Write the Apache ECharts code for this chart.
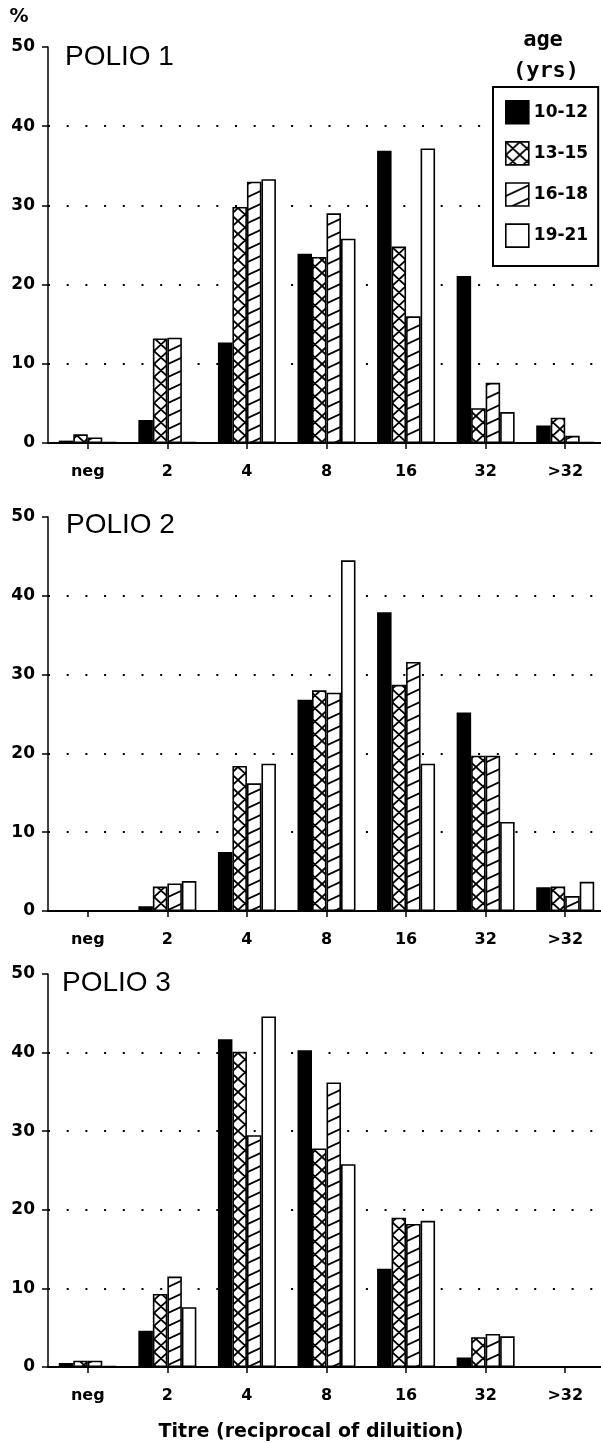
<!DOCTYPE html>
<html>
<head>
<meta charset="utf-8">
<script src="https://cdn.jsdelivr.net/npm/echarts@6/dist/echarts.min.js"></script>
<style>
html,body{margin:0;padding:0;background:#fff;}
#chart{width:601px;height:1443px;}
</style>
</head>
<body>
<div id="chart"></div>
<script>
// ---- data ----
const categories = ['neg', '2', '4', '8', '16', '32', '>32'];
const ageGroups = ['10-12', '13-15', '16-18', '19-21'];
const panelTitles = ['POLIO 1', 'POLIO 2', 'POLIO 3'];
const yTicks = [0, 10, 20, 30, 40, 50];

const polio1_10_12 = [0.3, 2.9, 12.7, 23.9, 36.9, 21.1, 2.2];
const polio1_13_15 = [1.1, 13.2, 29.8, 23.5, 24.8, 4.4, 3.2];
const polio1_16_18 = [0.7, 13.3, 33.0, 29.0, 16.0, 7.6, 0.9];
const polio1_19_21 = [0.1, 0.1, 33.3, 25.8, 37.2, 3.9, 0.1];

const polio2_10_12 = [0, 0.6, 7.5, 26.8, 37.9, 25.2, 3.0];
const polio2_13_15 = [0, 3.1, 18.4, 28.0, 28.7, 19.7, 3.1];
const polio2_16_18 = [0, 3.5, 16.2, 27.7, 31.6, 19.7, 1.9];
const polio2_19_21 = [0, 3.8, 18.7, 44.5, 18.7, 11.3, 3.7];

const polio3_10_12 = [0.5, 4.6, 41.7, 40.3, 12.5, 1.2, 0];
const polio3_13_15 = [0.8, 9.3, 40.1, 27.8, 19.0, 3.8, 0];
const polio3_16_18 = [0.8, 11.5, 29.5, 36.2, 18.2, 4.2, 0];
const polio3_19_21 = [0.1, 7.6, 44.6, 25.8, 18.6, 3.9, 0];

const panels = [
  [polio1_10_12, polio1_13_15, polio1_16_18, polio1_19_21],
  [polio2_10_12, polio2_13_15, polio2_16_18, polio2_19_21],
  [polio3_10_12, polio3_13_15, polio3_16_18, polio3_19_21]
];

// ---- patterns ----
function crossPattern() {
  const c = document.createElement('canvas');
  c.width = 14; c.height = 13;
  const g = c.getContext('2d');
  g.fillStyle = '#fff'; g.fillRect(0, 0, 14, 13);
  g.strokeStyle = '#000'; g.lineWidth = 1.8;
  g.beginPath();
  for (const dy of [-13, 0, 13]) {
    g.moveTo(-14, -13 + dy); g.lineTo(28, 26 + dy);
    g.moveTo(28, -13 + dy); g.lineTo(-14, 26 + dy);
  }
  g.stroke();
  return c;
}
function hatchPattern() {
  const c = document.createElement('canvas');
  c.width = 28; c.height = 13;
  const g = c.getContext('2d');
  g.fillStyle = '#fff'; g.fillRect(0, 0, 28, 13);
  g.strokeStyle = '#000'; g.lineWidth = 1.8;
  g.beginPath();
  for (const dy of [-13, 0, 13]) {
    g.moveTo(-28, 26 + dy); g.lineTo(56, -13 + dy);
  }
  g.stroke();
  return c;
}
const fills = [
  '#000',
  { image: crossPattern(), repeat: 'repeat' },
  { image: hatchPattern(), repeat: 'repeat' },
  '#fff'
];

// ---- layout ----
const gridTops = [47, 517, 974];
const gridHeights = [396, 394, 393];
const FONT = '"Liberation Sans", Arial, sans-serif';
const BFONT = '"DejaVu Sans", sans-serif';

const grids = [], xAxes = [], yAxes = [], series = [];
for (let p = 0; p < 3; p++) {
  grids.push({ left: 48, top: gridTops[p], width: 557, height: gridHeights[p], containLabel: false, outerBoundsMode: 'none' });
  xAxes.push({
    type: 'category', gridIndex: p, data: categories, boundaryGap: true,
    axisLine: { show: true, lineStyle: { color: '#000', width: 2 } },
    axisTick: { show: true, alignWithLabel: true, length: 6, lineStyle: { color: '#000', width: 1.5 } },
    axisLabel: { show: true, color: '#000', fontSize: 16, fontWeight: 'bold', fontFamily: BFONT, margin: 21 },
    splitLine: { show: false }
  });
  yAxes.push({
    type: 'value', gridIndex: p, min: yTicks[0], max: yTicks[yTicks.length - 1], interval: 10,
    axisLine: { show: true, lineStyle: { color: '#000', width: 1.5 } },
    axisTick: { show: true, inside: false, length: 6, lineStyle: { color: '#000', width: 1.5 } },
    axisLabel: { show: true, color: '#000', fontSize: 17, fontWeight: 'bold', fontFamily: BFONT, margin: 13 },
    splitLine: { show: true, showMinLine: false, showMaxLine: false,
      lineStyle: { color: '#000', width: 2, type: [2, 16.7], cap: 'butt' } }
  });
  for (let a = 0; a < 4; a++) {
    series.push({
      type: 'bar', name: ageGroups[a], xAxisIndex: p, yAxisIndex: p,
      data: panels[p][a], barWidth: 14.5, barGap: '0%',
      itemStyle: { color: fills[a], borderColor: '#000', borderWidth: 1.6 },
      emphasis: { disabled: true }
    });
  }
}

const graphics = [
  { type: 'text', x: 19, y: 17, style: { text: '%', font: 'bold 19px ' + BFONT, fill: '#000', align: 'center', verticalAlign: 'middle' } },
  { type: 'text', x: 543, y: 40, style: { text: 'age', font: 'bold 22px "DejaVu Sans Mono", monospace', fill: '#000', align: 'center', verticalAlign: 'middle' } },
  { type: 'text', x: 546, y: 71, style: { text: '(yrs)', font: 'bold 22px "DejaVu Sans Mono", monospace', fill: '#000', align: 'center', verticalAlign: 'middle' } },
  { type: 'text', x: 311, y: 1432, style: { text: 'Titre (reciprocal of diluition)', font: 'bold 19px ' + BFONT, fill: '#000', align: 'center', verticalAlign: 'middle' } }
];
const titleY = [57, 525, 983];
const titleX = [65, 66, 62];
for (let p = 0; p < 3; p++) {
  graphics.push({ type: 'text', x: titleX[p], y: titleY[p], style: { text: panelTitles[p], font: '28px ' + FONT, fill: '#000', verticalAlign: 'middle' } });
}

const chart = echarts.init(document.getElementById('chart'), null, { renderer: 'canvas' });
chart.setOption({
  animation: false,
  backgroundColor: '#fff',
  grid: grids,
  xAxis: xAxes,
  yAxis: yAxes,
  series: series,
  legend: {
    show: true, orient: 'vertical', left: 493, top: 87,
    data: ageGroups, icon: 'rect', itemWidth: 23, itemHeight: 23, itemGap: 16.5,
    padding: [13, 10, 18, 12],
    borderColor: '#000', borderWidth: 2, backgroundColor: '#fff',
    selectedMode: false,
    itemStyle: { borderColor: '#000', borderWidth: 1.6 },
    textStyle: { color: '#000', fontSize: 17, fontWeight: 'bold', fontFamily: BFONT }
  },
  graphic: graphics
});
</script>
</body>
</html>
